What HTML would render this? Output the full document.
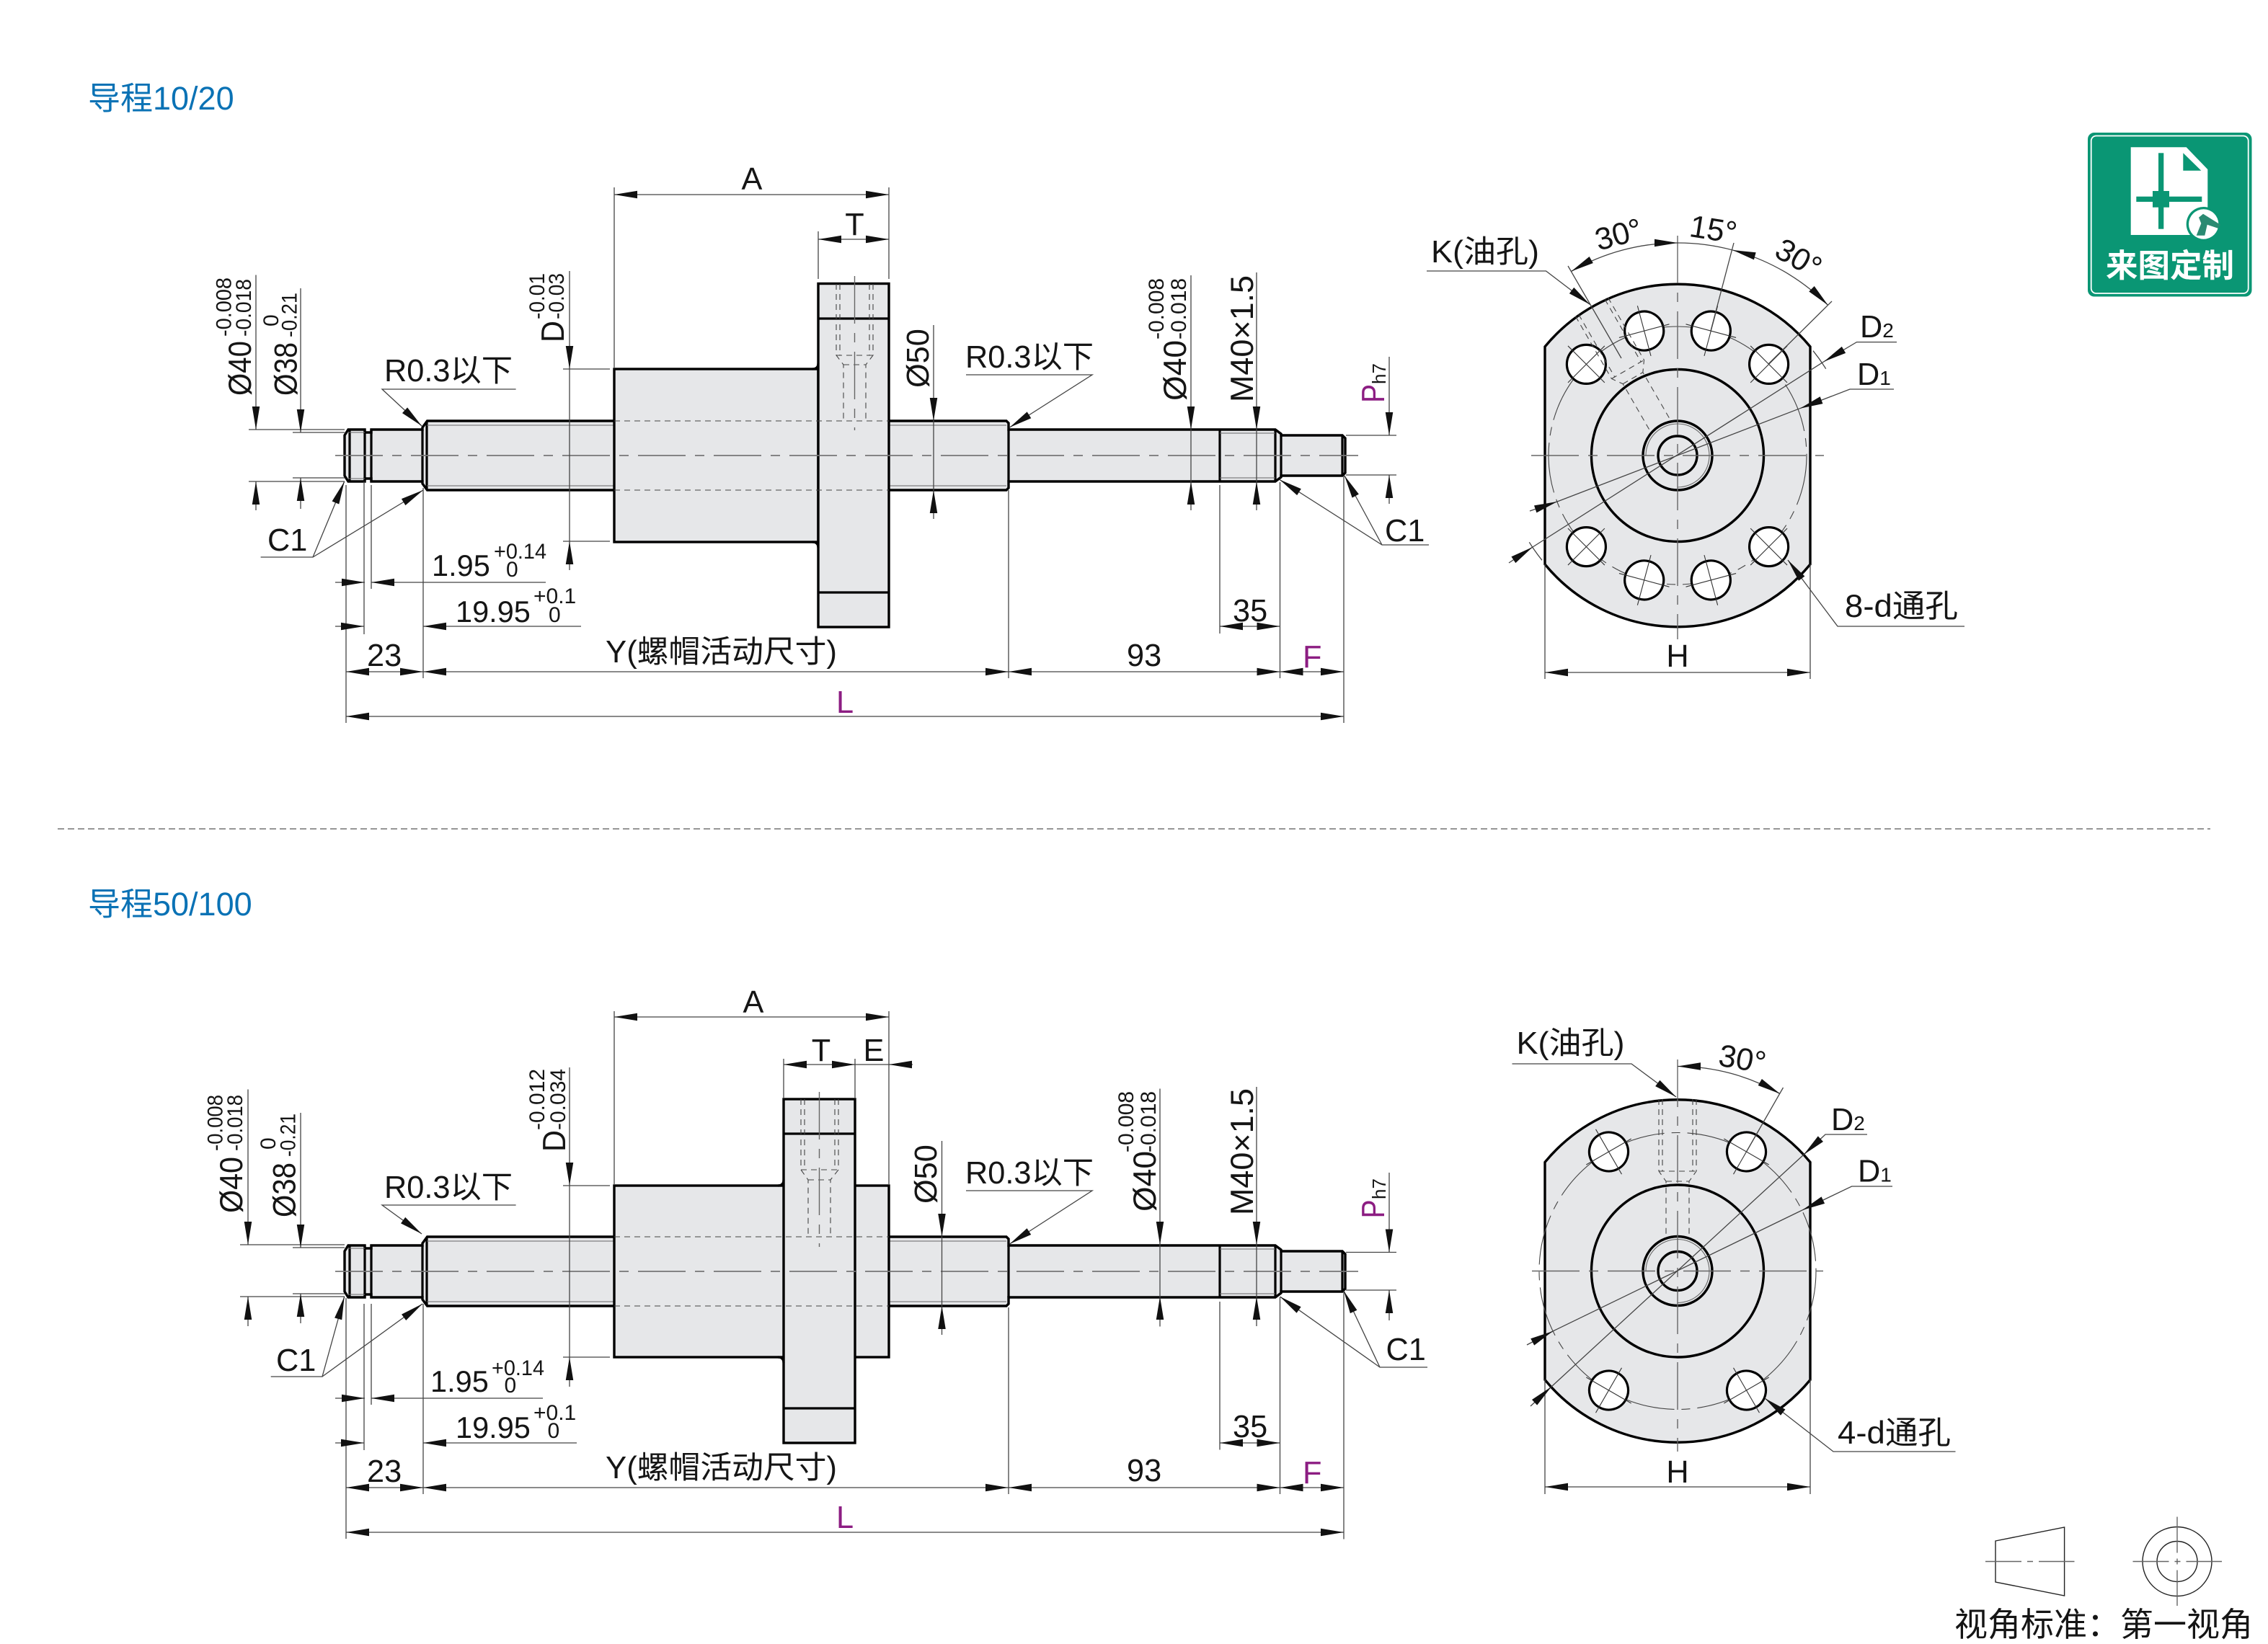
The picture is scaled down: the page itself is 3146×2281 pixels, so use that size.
<!DOCTYPE html>
<html lang="zh">
<head>
<meta charset="utf-8">
<title>滚珠丝杠尺寸图</title>
<style>
html,body{margin:0;padding:0;background:#fff}
svg{display:block}
text{font-family:"Liberation Sans","Noto Sans CJK SC",sans-serif;fill:#151515}
.t{font-size:43.3px}
.n{font-size:41.5px}
.o{font-size:44.5px}
.s{font-size:30px}
.m{text-anchor:middle}
.p{fill:#8c1d82}
.b{fill:#0a72b5;font-size:45px}
.th{stroke:#000;stroke-width:3.2;fill:none;stroke-linejoin:miter}
.f{fill:#e6e7e9;stroke:#000;stroke-width:3.4;stroke-linejoin:miter}
.d line,.d path,line.d,path.d{stroke:#444;stroke-width:1.3;fill:none}
.c{stroke:#777;stroke-width:1.7;fill:none;stroke-dasharray:66 13 13 13}
.c2{stroke:#666;stroke-width:1.4;fill:none;stroke-dasharray:66 13 13 13}
.h{stroke:#444;stroke-width:1.1;fill:none;stroke-dasharray:8 6}
.g{stroke:#666;stroke-width:1.1;fill:none}
.bc{stroke:#444;stroke-width:1.1;fill:none;stroke-dasharray:70 10 12 10}
</style>
</head>
<body>
<svg xmlns="http://www.w3.org/2000/svg" width="3146" height="2281" viewBox="0 0 3146 2281">
<defs>
<marker id="a" markerUnits="userSpaceOnUse" markerWidth="34" markerHeight="12" refX="32" refY="5.25" orient="auto-start-reverse" overflow="visible">
<path d="M0 0L32 5.25L0 10.5Z" fill="#111"/>
</marker>
<g id="shaft">
<path class="f" d="M478-28L483-36H506V-32H515V-36H586V-39L592.6-48H1396L1399-45V-36H1769L1777-30V-28H1862L1866-24V24L1862 28H1777V30L1769 36H1399V45L1396 48H592.6L586 39V36H515V32H506V36H483L478 28Z"/>
<path class="th" d="M485-36V36M506-36V36M515-36V36M586-36V36M592-48V48M1399-36V36M1692-36V36M1769-36V36M1777-28V28M1862-28V28"/>
<path class="g" d="M482-32H506M482 32H506M592-42H1396M592 42H1396M1692-31H1769M1692 31H1769"/>
</g>
<g id="h">
<circle r="27" fill="#fff" stroke="#000" stroke-width="3.2"/>
<path d="M-36 0H36M0-36V36" stroke="#333" stroke-width="1.1" fill="none"/>
</g>
<g id="oil">
<path class="h" d="M-26 0V100L-16 114V190M26 0V100L16 114V190M-21 0V100M21 0V100M-26 100H26M-16 114H16"/>
</g>
</defs>

<text class="b" x="122" y="152">导程10/20</text>
<text class="b" x="122" y="1270">导程50/100</text>
<line x1="80" y1="1150" x2="3066" y2="1150" stroke="#888" stroke-width="1.8" stroke-dasharray="9 5"/>

<!-- ============ TOP SIDE VIEW ============ -->
<use href="#shaft" transform="translate(0 632)"/>
<rect class="f" x="852" y="512" width="283" height="240"/>
<rect class="f" x="1135" y="393.5" width="98" height="476.5"/>
<path class="th" d="M1135 442H1233M1135 822H1233"/>
<path class="th" d="M1127 512Q1135 512 1135 504M1127 752Q1135 752 1135 760"/>
<path class="h" d="M852 584H1233M852 680H1233M1160 394V493L1170 506V584M1211 394V493L1201 506V584M1165 394V493M1206 394V493M1160 493H1211M1170 506H1201"/>
<line class="c2" x1="1185.5" y1="383" x2="1185.5" y2="597"/>
<line class="c" x1="465" y1="632" x2="1884" y2="632"/>

<g class="d">
<line x1="345" y1="596" x2="478" y2="596"/><line x1="345" y1="668" x2="478" y2="668"/>
<line x1="406" y1="600" x2="478" y2="600"/><line x1="406" y1="663" x2="478" y2="663"/>
<line x1="355" y1="381.5" x2="355" y2="596" marker-end="url(#a)"/><line x1="355" y1="708" x2="355" y2="668" marker-end="url(#a)"/>
<line x1="417" y1="400" x2="417" y2="600" marker-end="url(#a)"/><line x1="417" y1="706" x2="417" y2="663" marker-end="url(#a)"/>
<line x1="781" y1="512" x2="846" y2="512"/><line x1="781" y1="751" x2="846" y2="751"/>
<line x1="790" y1="376" x2="790" y2="512" marker-end="url(#a)"/><line x1="790" y1="791" x2="790" y2="751" marker-end="url(#a)"/>
<line x1="790" y1="512" x2="790" y2="751"/>
<line x1="1295" y1="451" x2="1295" y2="584" marker-end="url(#a)"/><line x1="1295" y1="720" x2="1295" y2="680" marker-end="url(#a)"/><line x1="1295" y1="584" x2="1295" y2="680"/>
<line x1="1652" y1="382" x2="1652" y2="596" marker-end="url(#a)"/><line x1="1652" y1="708" x2="1652" y2="668" marker-end="url(#a)"/><line x1="1652" y1="596" x2="1652" y2="668"/>
<line x1="1743" y1="378" x2="1743" y2="596" marker-end="url(#a)"/><line x1="1743" y1="708" x2="1743" y2="668" marker-end="url(#a)"/><line x1="1743" y1="596" x2="1743" y2="668"/>
<line x1="1867" y1="604" x2="1937" y2="604"/><line x1="1867" y1="659" x2="1937" y2="659"/>
<line x1="1927" y1="495" x2="1927" y2="604" marker-end="url(#a)"/><line x1="1927" y1="699" x2="1927" y2="659" marker-end="url(#a)"/>

<line x1="852" y1="260" x2="852" y2="510"/><line x1="1233" y1="260" x2="1233" y2="387"/><line x1="1135" y1="321" x2="1135" y2="387"/>
<line x1="852" y1="270" x2="1233" y2="270" marker-start="url(#a)" marker-end="url(#a)"/>
<line x1="1135" y1="332" x2="1233" y2="332" marker-start="url(#a)" marker-end="url(#a)"/>

<line x1="480" y1="673" x2="480" y2="1003"/><line x1="505" y1="668" x2="505" y2="880"/><line x1="515" y1="673" x2="515" y2="817"/><line x1="587" y1="677" x2="587" y2="941"/>
<line x1="1399" y1="680" x2="1399" y2="941"/><line x1="1692" y1="673" x2="1692" y2="879"/><line x1="1775.5" y1="669" x2="1775.5" y2="941"/><line x1="1864" y1="660" x2="1864" y2="1003"/>
<line x1="465" y1="808" x2="506" y2="808" marker-end="url(#a)"/><line x1="757" y1="808" x2="515" y2="808" marker-end="url(#a)"/>
<line x1="465" y1="869" x2="505" y2="869" marker-end="url(#a)"/><line x1="806" y1="869" x2="587" y2="869" marker-end="url(#a)"/>
<line x1="480" y1="932" x2="587" y2="932" marker-start="url(#a)" marker-end="url(#a)"/>
<line x1="587" y1="932" x2="1399" y2="932" marker-start="url(#a)" marker-end="url(#a)"/>
<line x1="1399" y1="932" x2="1775.5" y2="932" marker-start="url(#a)" marker-end="url(#a)"/>
<line x1="1775.5" y1="932" x2="1864" y2="932" marker-start="url(#a)" marker-end="url(#a)"/>
<line x1="480" y1="994" x2="1864" y2="994" marker-start="url(#a)" marker-end="url(#a)"/>
<line x1="1692" y1="869" x2="1775.5" y2="869" marker-start="url(#a)" marker-end="url(#a)"/>

<path d="M715.6 540H530L585 591" marker-end="url(#a)"/>
<path d="M361.6 773H434L477.7 668" marker-end="url(#a)"/>
<path d="M434 773L587 680" marker-end="url(#a)"/>
<path d="M1340 520H1515L1400.5 593" marker-end="url(#a)"/>
<path d="M1982 756H1917L1775 665.5" marker-end="url(#a)"/>
<path d="M1917 756L1865 660" marker-end="url(#a)"/>
</g>

<text class="t m" x="1043" y="263">A</text>
<text class="t m" x="1185.5" y="326">T</text>
<text class="t" x="533" y="529">R0.3以下</text>
<text class="t" x="1339" y="510">R0.3以下</text>
<text class="t" x="371" y="764">C1</text>
<text class="t" x="1921" y="751">C1</text>
<text class="n" x="599" y="799">1.95</text>
<text class="s" x="685" y="775" textLength="73" lengthAdjust="spacingAndGlyphs">+0.14</text>
<text class="s" x="702" y="800">0</text>
<text class="n" x="632" y="863">19.95</text>
<text class="s" x="740" y="837">+0.1</text>
<text class="s" x="761" y="863">0</text>
<text class="t" x="509" y="924">23</text>
<text class="t" x="840" y="919" textLength="321" lengthAdjust="spacingAndGlyphs">Y(螺帽活动尺寸)</text>
<text class="t p" x="1160" y="989">L</text>
<text class="t" x="1563" y="924">93</text>
<text class="t" x="1710" y="862">35</text>
<text class="t p" x="1807" y="926">F</text>

<text class="o" transform="translate(348 549) rotate(-90)" textLength="76" lengthAdjust="spacingAndGlyphs">Ø40</text>
<text class="s" transform="translate(320.5 467) rotate(-90)" textLength="82" lengthAdjust="spacingAndGlyphs">-0.008</text>
<text class="s" transform="translate(348 467) rotate(-90)" textLength="80" lengthAdjust="spacingAndGlyphs">-0.018</text>
<text class="o" transform="translate(411.7 549) rotate(-90)" textLength="74" lengthAdjust="spacingAndGlyphs">Ø38</text>
<text class="s" transform="translate(386 453) rotate(-90)">0</text>
<text class="s" transform="translate(411.7 468) rotate(-90)" textLength="62" lengthAdjust="spacingAndGlyphs">-0.21</text>
<text class="o" transform="translate(782 475) rotate(-90)" textLength="30" lengthAdjust="spacingAndGlyphs">D</text>
<text class="s" transform="translate(755 443) rotate(-90)" textLength="64" lengthAdjust="spacingAndGlyphs">-0.01</text>
<text class="s" transform="translate(782 443) rotate(-90)" textLength="64" lengthAdjust="spacingAndGlyphs">-0.03</text>
<text class="t" transform="translate(1288 538) rotate(-90)">Ø50</text>
<text class="o" transform="translate(1645 556) rotate(-90)">Ø40</text>
<text class="s" transform="translate(1614 471) rotate(-90)">-0.008</text>
<text class="s" transform="translate(1645 471) rotate(-90)">-0.018</text>
<text class="o" transform="translate(1738 558) rotate(-90)" textLength="176" lengthAdjust="spacingAndGlyphs">M40×1.5</text>
<text class="o p" transform="translate(1920 559) rotate(-90)" textLength="26" lengthAdjust="spacingAndGlyphs">P</text>
<text transform="translate(1922 533) rotate(-90)" font-size="26">h7</text>

<!-- ============ TOP FRONT VIEW ============ -->
<path class="f" d="M2143 481A238.5 238.5 0 0 1 2511 481V783A238.5 238.5 0 0 1 2143 783Z"/>
<circle class="bc" cx="2327" cy="632" r="179"/>
<use href="#h" transform="translate(2453.6 505.4) rotate(45)"/>
<use href="#h" transform="translate(2373.3 459.1) rotate(15)"/>
<use href="#h" transform="translate(2280.7 459.1) rotate(-15)"/>
<use href="#h" transform="translate(2200.4 505.4) rotate(-45)"/>
<use href="#h" transform="translate(2453.6 758.6) rotate(-45)"/>
<use href="#h" transform="translate(2373.3 804.9) rotate(-15)"/>
<use href="#h" transform="translate(2280.7 804.9) rotate(15)"/>
<use href="#h" transform="translate(2200.4 758.6) rotate(45)"/>
<circle cx="2327" cy="632" r="119.5" fill="none" stroke="#000" stroke-width="3.4"/>
<circle cx="2327" cy="632" r="48" fill="none" stroke="#000" stroke-width="3.4"/>
<path class="g" d="M2283 632A44 44 0 1 1 2327 676"/>
<circle cx="2327" cy="632" r="27" fill="none" stroke="#000" stroke-width="3.4"/>
<g transform="rotate(-30 2327 632)"><use href="#oil" transform="translate(2327 394)"/></g>
<line class="c2" x1="2124" y1="632" x2="2530" y2="632"/>
<line class="c2" x1="2327" y1="327" x2="2327" y2="887"/>
<g class="d">
<line x1="2143" y1="783" x2="2143" y2="942"/><line x1="2511" y1="783" x2="2511" y2="942"/>
<line x1="2143" y1="933" x2="2511" y2="933" marker-start="url(#a)" marker-end="url(#a)"/>
<line x1="2175" y1="369" x2="2249" y2="497"/>
<line x1="2405" y1="337" x2="2373" y2="459"/>
<line x1="2541" y1="418" x2="2453" y2="505"/>
<path d="M2515 486.7A238.5 238.5 0 0 1 2532.7 511.7"/>
<path d="M2139 777.3A238.5 238.5 0 0 1 2121.3 752.3"/>
<path d="M2179.5 376.5A295 295 0 0 1 2327 337" marker-start="url(#a)" marker-end="url(#a)"/>
<path d="M2327 337A295 295 0 0 1 2403.4 347"/>
<path d="M2403.4 347A295 295 0 0 1 2535.6 423.4" marker-start="url(#a)" marker-end="url(#a)"/>
<path d="M1979 376H2144.5L2205.5 422.5" marker-end="url(#a)"/>
<path d="M2631 474.6H2575.5L2530 501.7" marker-end="url(#a)"/>
<line x1="2530" y1="501.7" x2="2126" y2="759"/>
<line x1="2093" y1="781" x2="2126" y2="759" marker-end="url(#a)"/>
<path d="M2627 540H2566L2496.7 566.7" marker-end="url(#a)"/>
<line x1="2496.7" y1="566.7" x2="2160" y2="696"/>
<line x1="2122" y1="709" x2="2160" y2="696" marker-end="url(#a)"/>
<path d="M2725 869H2549L2480 777" marker-end="url(#a)"/>
</g>
<text class="t" x="1985" y="364" textLength="150" lengthAdjust="spacingAndGlyphs">K(油孔)</text>
<text class="t m" transform="translate(2245 325) rotate(-15)" y="15">30°</text>
<text class="t m" transform="translate(2376.7 318) rotate(9)" y="15">15°</text>
<text class="t m" transform="translate(2495 358) rotate(30)" y="15">30°</text>
<text class="t" x="2580" y="468">D<tspan font-size="28">2</tspan></text>
<text class="t" x="2576" y="534">D<tspan font-size="28">1</tspan></text>
<text class="o" x="2559" y="856" textLength="157" lengthAdjust="spacingAndGlyphs">8-d通孔</text>
<text class="t m" x="2327" y="925">H</text>

<!-- ============ BOTTOM SIDE VIEW ============ -->
<use href="#shaft" transform="translate(0 1764)"/>
<rect class="f" x="852" y="1645" width="381" height="238"/>
<rect class="f" x="1087" y="1525" width="99" height="477"/>
<path class="th" d="M1087 1573H1186M1087 1954H1186"/>
<path class="th" d="M1079 1645Q1087 1645 1087 1637M1079 1883Q1087 1883 1087 1891"/>
<path class="h" d="M852 1716H1233M852 1812H1233M1111 1525V1623L1121 1637V1716M1163 1525V1623L1152 1637V1716M1116 1525V1623M1158 1525V1623M1111 1623H1163M1121 1637H1152"/>
<line class="c2" x1="1136.5" y1="1515" x2="1136.5" y2="1730"/>
<line class="c" x1="465" y1="1764" x2="1884" y2="1764"/>

<g class="d">
<line x1="333" y1="1727" x2="478" y2="1727"/><line x1="333" y1="1799" x2="478" y2="1799"/>
<line x1="406" y1="1731" x2="478" y2="1731"/><line x1="406" y1="1795" x2="478" y2="1795"/>
<line x1="344" y1="1511.5" x2="344" y2="1727" marker-end="url(#a)"/><line x1="344" y1="1840" x2="344" y2="1799" marker-end="url(#a)"/>
<line x1="417" y1="1544" x2="417" y2="1731" marker-end="url(#a)"/><line x1="417" y1="1836" x2="417" y2="1795" marker-end="url(#a)"/>
<line x1="781" y1="1645" x2="846" y2="1645"/><line x1="781" y1="1883" x2="846" y2="1883"/>
<line x1="790" y1="1481" x2="790" y2="1645" marker-end="url(#a)"/><line x1="790" y1="1924" x2="790" y2="1883" marker-end="url(#a)"/>
<line x1="790" y1="1645" x2="790" y2="1883"/>
<line x1="1306.5" y1="1583" x2="1306.5" y2="1716" marker-end="url(#a)"/><line x1="1306.5" y1="1852" x2="1306.5" y2="1812" marker-end="url(#a)"/><line x1="1306.5" y1="1716" x2="1306.5" y2="1812"/>
<line x1="1609" y1="1510.5" x2="1609" y2="1727" marker-end="url(#a)"/><line x1="1609" y1="1840.5" x2="1609" y2="1799" marker-end="url(#a)"/><line x1="1609" y1="1727" x2="1609" y2="1799"/>
<line x1="1743" y1="1508" x2="1743" y2="1727" marker-end="url(#a)"/><line x1="1743" y1="1840" x2="1743" y2="1799" marker-end="url(#a)"/><line x1="1743" y1="1727" x2="1743" y2="1799"/>
<line x1="1867" y1="1737.5" x2="1937" y2="1737.5"/><line x1="1867" y1="1790" x2="1937" y2="1790"/>
<line x1="1927" y1="1627" x2="1927" y2="1737.5" marker-end="url(#a)"/><line x1="1927" y1="1832" x2="1927" y2="1790" marker-end="url(#a)"/>

<line x1="852" y1="1403" x2="852" y2="1643"/><line x1="1233" y1="1403" x2="1233" y2="1643"/><line x1="1087" y1="1469" x2="1087" y2="1523"/><line x1="1186" y1="1469" x2="1186" y2="1523"/>
<line x1="852" y1="1411" x2="1233" y2="1411" marker-start="url(#a)" marker-end="url(#a)"/>
<line x1="1087" y1="1477" x2="1186" y2="1477" marker-start="url(#a)" marker-end="url(#a)"/>
<line x1="1186" y1="1477" x2="1233" y2="1477"/>
<line x1="1266" y1="1477" x2="1233" y2="1477" marker-end="url(#a)"/>

<line x1="480" y1="1801" x2="480" y2="2135"/><line x1="505" y1="1809" x2="505" y2="2012"/><line x1="515" y1="1809" x2="515" y2="1949"/><line x1="587" y1="1809" x2="587" y2="2073"/>
<line x1="1399" y1="1814" x2="1399" y2="2073"/><line x1="1692" y1="1806" x2="1692" y2="2011.5"/><line x1="1775.5" y1="1800" x2="1775.5" y2="2073"/><line x1="1864" y1="1791" x2="1864" y2="2135.5"/>
<line x1="465" y1="1940" x2="506" y2="1940" marker-end="url(#a)"/><line x1="753" y1="1940" x2="515" y2="1940" marker-end="url(#a)"/>
<line x1="465" y1="2002" x2="505" y2="2002" marker-end="url(#a)"/><line x1="800" y1="2002" x2="587" y2="2002" marker-end="url(#a)"/>
<line x1="480" y1="2064" x2="587" y2="2064" marker-start="url(#a)" marker-end="url(#a)"/>
<line x1="587" y1="2064" x2="1399" y2="2064" marker-start="url(#a)" marker-end="url(#a)"/>
<line x1="1399" y1="2064" x2="1775.5" y2="2064" marker-start="url(#a)" marker-end="url(#a)"/>
<line x1="1775.5" y1="2064" x2="1864" y2="2064" marker-start="url(#a)" marker-end="url(#a)"/>
<line x1="480" y1="2126" x2="1864" y2="2126" marker-start="url(#a)" marker-end="url(#a)"/>
<line x1="1692" y1="2002" x2="1775.5" y2="2002" marker-start="url(#a)" marker-end="url(#a)"/>

<path d="M715.6 1672H530L585 1712" marker-end="url(#a)"/>
<path d="M375.7 1910H447L477.7 1799" marker-end="url(#a)"/>
<path d="M447 1910L586 1809" marker-end="url(#a)"/>
<path d="M1340 1652H1515L1400.5 1726" marker-end="url(#a)"/>
<path d="M1980 1897H1914L1775.5 1799" marker-end="url(#a)"/>
<path d="M1914 1897L1864 1791" marker-end="url(#a)"/>
</g>

<text class="t m" x="1045" y="1405">A</text>
<text class="t m" x="1139" y="1472">T</text>
<text class="t m" x="1212" y="1472">E</text>
<text class="t" x="533" y="1662">R0.3以下</text>
<text class="t" x="1339" y="1642">R0.3以下</text>
<text class="t" x="383" y="1902">C1</text>
<text class="t" x="1922.5" y="1887">C1</text>
<text class="n" x="597" y="1931">1.95</text>
<text class="s" x="682" y="1908" textLength="73" lengthAdjust="spacingAndGlyphs">+0.14</text>
<text class="s" x="699.5" y="1932">0</text>
<text class="n" x="632" y="1995">19.95</text>
<text class="s" x="740" y="1970">+0.1</text>
<text class="s" x="759.5" y="1995">0</text>
<text class="t" x="509" y="2056">23</text>
<text class="t" x="840" y="2051" textLength="321" lengthAdjust="spacingAndGlyphs">Y(螺帽活动尺寸)</text>
<text class="t p" x="1160" y="2120">L</text>
<text class="t" x="1563" y="2055">93</text>
<text class="t" x="1710" y="1994">35</text>
<text class="t p" x="1807" y="2058">F</text>

<text class="o" transform="translate(336 1683) rotate(-90)" textLength="78" lengthAdjust="spacingAndGlyphs">Ø40</text>
<text class="s" transform="translate(308.5 1597) rotate(-90)" textLength="78" lengthAdjust="spacingAndGlyphs">-0.008</text>
<text class="s" transform="translate(336 1597) rotate(-90)" textLength="78" lengthAdjust="spacingAndGlyphs">-0.018</text>
<text class="o" transform="translate(409.5 1689) rotate(-90)" textLength="76" lengthAdjust="spacingAndGlyphs">Ø38</text>
<text class="s" transform="translate(382 1595) rotate(-90)">0</text>
<text class="s" transform="translate(409.5 1605) rotate(-90)" textLength="60" lengthAdjust="spacingAndGlyphs">-0.21</text>
<text class="o" transform="translate(784 1598) rotate(-90)" textLength="30" lengthAdjust="spacingAndGlyphs">D</text>
<text class="s" transform="translate(755 1568) rotate(-90)">-0.012</text>
<text class="s" transform="translate(784 1568) rotate(-90)">-0.034</text>
<text class="t" transform="translate(1299 1670) rotate(-90)">Ø50</text>
<text class="o" transform="translate(1603 1681) rotate(-90)">Ø40</text>
<text class="s" transform="translate(1572 1599) rotate(-90)">-0.008</text>
<text class="s" transform="translate(1603 1599) rotate(-90)">-0.018</text>
<text class="o" transform="translate(1738 1686) rotate(-90)" textLength="176" lengthAdjust="spacingAndGlyphs">M40×1.5</text>
<text class="o p" transform="translate(1920 1690.5) rotate(-90)" textLength="26" lengthAdjust="spacingAndGlyphs">P</text>
<text transform="translate(1922 1664) rotate(-90)" font-size="26">h7</text>

<!-- ============ BOTTOM FRONT VIEW ============ -->
<path class="f" d="M2143 1612.5A238.5 238.5 0 0 1 2511 1612.5V1914.5A238.5 238.5 0 0 1 2143 1914.5Z"/>
<circle class="bc" cx="2327" cy="1763.5" r="192"/>
<use href="#h" transform="translate(2422.5 1598) rotate(30)"/>
<use href="#h" transform="translate(2231.5 1598) rotate(-30)"/>
<use href="#h" transform="translate(2422.5 1929) rotate(-30)"/>
<use href="#h" transform="translate(2231.5 1929) rotate(30)"/>
<circle cx="2327" cy="1763.5" r="119.5" fill="none" stroke="#000" stroke-width="3.4"/>
<circle cx="2327" cy="1763.5" r="48" fill="none" stroke="#000" stroke-width="3.4"/>
<path class="g" d="M2283 1763.5A44 44 0 1 1 2327 1807.5"/>
<circle cx="2327" cy="1763.5" r="27" fill="none" stroke="#000" stroke-width="3.4"/>
<use href="#oil" transform="translate(2327 1525)"/>
<line class="c2" x1="2125" y1="1763.5" x2="2529" y2="1763.5"/>
<line class="c2" x1="2327" y1="1470" x2="2327" y2="2014"/>
<g class="d">
<line x1="2143" y1="1914" x2="2143" y2="2073"/><line x1="2511" y1="1914" x2="2511" y2="2073"/>
<line x1="2143" y1="2063" x2="2511" y2="2063" marker-start="url(#a)" marker-end="url(#a)"/>
<line x1="2473.5" y1="1509" x2="2422.5" y2="1598"/>
<path d="M2327 1479.5A284 284 0 0 1 2469 1517.5" marker-start="url(#a)" marker-end="url(#a)"/>
<path d="M2097.5 1476H2263L2325 1522" marker-end="url(#a)"/>
<path d="M2590 1574H2532L2502 1602" marker-end="url(#a)"/>
<line x1="2502" y1="1602" x2="2152" y2="1924"/>
<line x1="2123" y1="1951" x2="2152" y2="1924" marker-end="url(#a)"/>
<path d="M2625 1646H2568.6L2500 1679" marker-end="url(#a)"/>
<line x1="2500" y1="1679" x2="2154" y2="1847"/>
<line x1="2118" y1="1866" x2="2154" y2="1847" marker-end="url(#a)"/>
<path d="M2712.5 2014H2543L2448 1940" marker-end="url(#a)"/>
</g>
<text class="t" x="2103.5" y="1462" textLength="150" lengthAdjust="spacingAndGlyphs">K(油孔)</text>
<text class="t m" transform="translate(2417 1469) rotate(10)" y="15">30°</text>
<text class="t" x="2540" y="1568">D<tspan font-size="28">2</tspan></text>
<text class="t" x="2577" y="1639.5">D<tspan font-size="28">1</tspan></text>
<text class="o" x="2549" y="2003" textLength="157" lengthAdjust="spacingAndGlyphs">4-d通孔</text>
<text class="t m" x="2327" y="2057">H</text>

<!-- ============ VIEW SYMBOL ============ -->
<path d="M2768 2138L2863.6 2119V2214L2768 2195Z" fill="none" stroke="#222" stroke-width="1.4"/>
<line class="c2" x1="2754" y1="2166.5" x2="2877.5" y2="2166.5" style="stroke-dasharray:50 8 8 8"/>
<circle cx="3020" cy="2166.5" r="48" fill="none" stroke="#222" stroke-width="1.4"/>
<circle cx="3020" cy="2166.5" r="28" fill="none" stroke="#222" stroke-width="1.4"/>
<line class="c2" x1="2958.5" y1="2166.5" x2="3082" y2="2166.5" style="stroke-dasharray:50 8 8 8"/>
<line class="c2" x1="3020" y1="2104.5" x2="3020" y2="2228" style="stroke-dasharray:50 8 8 8"/>
<text x="2711" y="2270" font-size="46">视角标准：第一视角</text>

<!-- ============ BADGE ============ -->
<rect x="2896" y="184" width="227.5" height="227.5" rx="9" fill="#0a9674"/>
<rect x="2900.7" y="188.5" width="218" height="218.5" rx="7" fill="none" stroke="#fff" stroke-width="1.8"/>
<path d="M2955.7 204.3H3032.7L3062.3 235V326H2955.7Z" fill="#fff"/>
<path d="M3028.3 212.3V236.7H3053.3Z" fill="#0a9674"/>
<rect x="2994" y="212.3" width="7.3" height="105.4" fill="#0a9674"/>
<rect x="2963.3" y="272.7" width="91" height="7.3" fill="#0a9674"/>
<rect x="2986" y="265" width="23" height="22.7" fill="#0a9674"/>
<circle cx="3056.7" cy="311" r="24" fill="#0a9674"/>
<circle cx="3056.7" cy="311" r="20.7" fill="#fff"/>
<path d="M3050 301.7L3056 296.7L3080 311.7L3076.7 316.7L3061.7 311.7L3058.3 326.7L3046.7 326.7L3053.3 310Z" fill="#2b8a72"/>
<text x="2921" y="384" font-size="44.5" font-weight="700" style="font-family:'Noto Sans CJK SC',sans-serif;fill:#fff">来图定制</text>
</svg>
</body>
</html>
